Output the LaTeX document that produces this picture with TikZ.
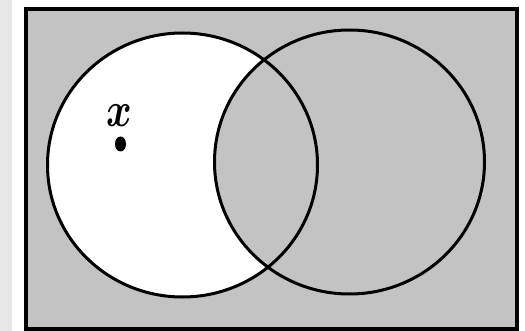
\documentclass[tikz,border=0pt]{standalone}
\begin{document}
\begin{tikzpicture}[x=1pt,y=-1pt,
  venn/.style={line width=3pt,draw=black},
  frame/.style={line width=4pt,draw=black}]
\definecolor{setgray}{HTML}{C3C3C3}
\definecolor{stripgray}{HTML}{E6E6E6}
\useasboundingbox (0,0) rectangle (525,331);
\fill[white] (0,0) rectangle (525,331);
\fill[stripgray] (0,0) rectangle (12,331);
% universe
\fill[setgray] (26,9) rectangle (517,329);
% set A minus B white
\fill[white] (182.5,165) ellipse [x radius=135, y radius=132];
\begin{scope}
  \clip (182.5,165) ellipse [x radius=135, y radius=132];
  \fill[setgray] (349.5,162) ellipse [x radius=135, y radius=132];
\end{scope}
\draw[venn] (182.5,165) ellipse [x radius=135, y radius=132];
\draw[venn] (349.5,162) ellipse [x radius=135, y radius=132];
\node[frame,minimum width=491pt,minimum height=320pt,inner sep=0pt,outer sep=0pt] (U) at (271.5,169) {};
% point
\fill[black] (120.5,144) ellipse [x radius=5.5, y radius=7.5];
\node[inner sep=0pt,xscale=3.9,yscale=4.9,font=\boldmath] (xl) at (119,116) {$x$};
\end{tikzpicture}
\end{document}
